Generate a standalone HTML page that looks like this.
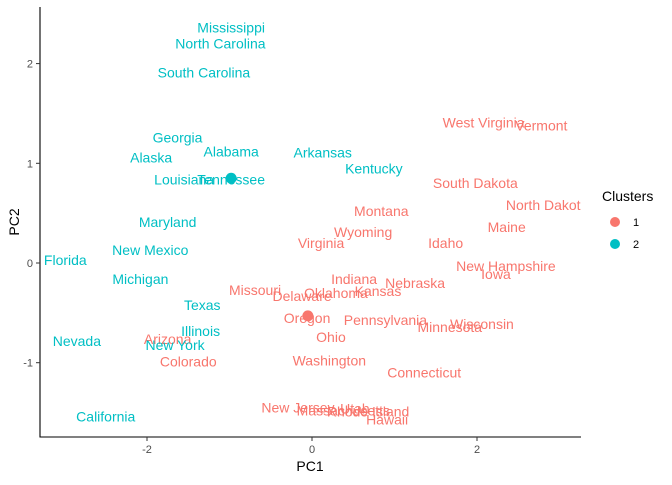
<!DOCTYPE html>
<html><head><meta charset="utf-8"><style>body{margin:0;background:#fff}svg{font-family:"Liberation Sans",sans-serif}</style></head>
<body>
<svg id="chart" width="672" height="480" xmlns="http://www.w3.org/2000/svg">
<defs><clipPath id="pc"><rect x="40" y="7" width="541" height="431"/></clipPath></defs>
<g id="panel" clip-path="url(#pc)"></g>
<g id="axes"></g>
<g id="legend"></g>
</svg>
<script>
const states1 = ["West Virginia","Vermont","South Dakota","North Dakota","Montana","Maine","Wyoming","Idaho","Virginia","New Hampshire","Iowa","Nebraska","Indiana","Kansas","Missouri","Delaware","Oklahoma","Oregon","Pennsylvania","Wisconsin","Minnesota","Ohio","Arizona","Colorado","Washington","Connecticut","New Jersey","Massachusetts","Utah","Rhode Island","Hawaii"];
const pc1_1 = [2.08,2.78,1.98,2.85,0.84,2.36,0.62,1.62,0.11,2.35,2.23,1.25,0.51,0.80,-0.69,-0.12,0.29,-0.06,0.89,2.06,1.67,0.23,-1.75,-1.50,0.21,1.36,-0.17,0.38,0.52,0.68,0.91];
const pc2_1 = [1.41,1.38,0.80,0.58,0.52,0.36,0.31,0.20,0.20,-0.03,-0.11,-0.20,-0.16,-0.28,-0.27,-0.33,-0.30,-0.55,-0.57,-0.61,-0.64,-0.74,-0.76,-0.99,-0.98,-1.10,-1.45,-1.48,-1.46,-1.49,-1.57];
const states2 = ["Mississippi","North Carolina","South Carolina","Georgia","Alaska","Alabama","Arkansas","Kentucky","Louisiana","Tennessee","Maryland","New Mexico","Florida","Michigan","Texas","Illinois","New York","Nevada","California"];
const pc1_2 = [-0.98,-1.11,-1.31,-1.63,-1.95,-0.98,0.13,0.75,-1.55,-0.98,-1.75,-1.96,-2.99,-2.08,-1.33,-1.35,-1.66,-2.85,-2.50];
const pc2_2 = [2.36,2.20,1.91,1.26,1.06,1.12,1.11,0.95,0.84,0.84,0.41,0.13,0.03,-0.16,-0.42,-0.68,-0.82,-0.78,-1.54];
const centersX = [-0.05,-0.98];
const centersY = [-0.53,0.85];
const xTicks = [-2,0,2];
const yTicks = [-1,0,1,2];
const colors = ["#F8766D","#00BFC4"];
const NS="http://www.w3.org/2000/svg";
const sx = v => 312 + v*82.5;
const sy = v => 263 - v*99.7;
function mk(tag, attrs, parent){const e=document.createElementNS(NS,tag);for(const k in attrs)e.setAttribute(k,attrs[k]);parent.appendChild(e);return e;}
const panel=document.getElementById('panel'), axes=document.getElementById('axes'), legend=document.getElementById('legend');
function labels(names,xs,ys,col){
  names.forEach((n,i)=>{
    const t=mk('text',{x:sx(xs[i]),y:sy(ys[i])+5,'text-anchor':'middle','font-size':'14',fill:col},panel);
    t.textContent=n;
    
    
  });
}
labels(states1,pc1_1,pc2_1,colors[0]);
labels(states2,pc1_2,pc2_2,colors[1]);
centersX.forEach((c,i)=>{
  const p=mk('circle',{cx:sx(c),cy:sy(centersY[i]),r:5.5,fill:colors[i]},panel);
  
  
});
mk('line',{x1:40,y1:7,x2:40,y2:437.5,stroke:'#000','stroke-width':1.1},axes);
mk('line',{x1:39.5,y1:437,x2:581,y2:437,stroke:'#000','stroke-width':1.1},axes);
xTicks.forEach(v=>{
  mk('line',{x1:sx(v),y1:437,x2:sx(v),y2:441,stroke:'#333'},axes);
  const t=mk('text',{x:sx(v),y:453,'text-anchor':'middle','font-size':'11',fill:'#4d4d4d'},axes);t.textContent=v;
  
  
});
yTicks.forEach(v=>{
  mk('line',{x1:36,y1:sy(v),x2:40,y2:sy(v),stroke:'#333'},axes);
  const t=mk('text',{x:33,y:sy(v)+4,'text-anchor':'end','font-size':'11',fill:'#4d4d4d'},axes);t.textContent=v;
  
  
});
let t=mk('text',{x:310,y:471,'text-anchor':'middle','font-size':'14'},axes);t.textContent='PC1';


t=mk('text',{x:19,y:222,'text-anchor':'middle','font-size':'14',transform:'rotate(-90 19 222)'},axes);t.textContent='PC2';


t=mk('text',{x:602,y:201,'font-size':'14'},legend);t.textContent='Clusters';


[0,1].forEach(i=>{
  const c=mk('circle',{cx:615,cy:222+i*22,r:5,fill:colors[i]},legend);
  
  
  const l=mk('text',{x:633,y:226+i*22,'font-size':'11'},legend);l.textContent=String(i+1);
  
  
});
</script>
</body></html>
